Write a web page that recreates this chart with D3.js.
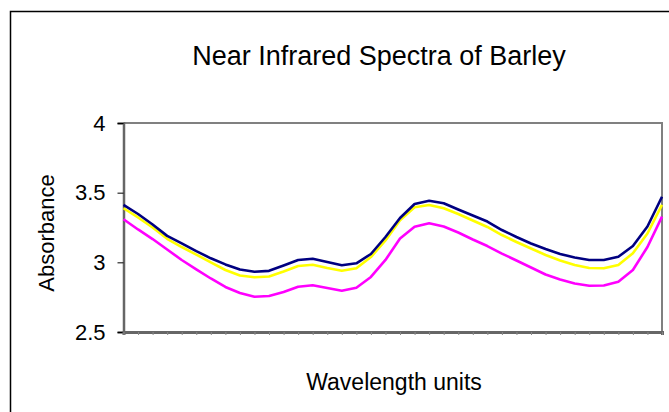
<!DOCTYPE html>
<html>
<head>
<meta charset="utf-8">
<script src="https://cdn.jsdelivr.net/npm/d3@7"></script>
<style>
  body { margin: 0; background: #fff; }
  svg { display: block; font-family: "Liberation Sans", Arial, sans-serif; }
</style>
</head>
<body>
<div id="chart"></div>
<script>
// wavelength categories (unlabelled on the chart)
const wavelengths = d3.range(1, 39);

// absorbance for three barley samples
const sample_navy = [3.412, 3.347, 3.272, 3.190, 3.136, 3.081, 3.029, 2.985, 2.948, 2.932,
                     2.939, 2.977, 3.017, 3.026, 3.002, 2.979, 2.993, 3.060, 3.182, 3.318,
                     3.419, 3.442, 3.424, 3.379, 3.336, 3.293, 3.232, 3.182, 3.135, 3.096,
                     3.060, 3.035, 3.017, 3.017, 3.040, 3.117, 3.257, 3.471];
const sample_yellow = [3.388, 3.322, 3.250, 3.169, 3.110, 3.056, 3.000, 2.945, 2.906, 2.893,
                       2.898, 2.934, 2.974, 2.983, 2.959, 2.940, 2.957, 3.038, 3.157, 3.302,
                       3.395, 3.412, 3.388, 3.347, 3.300, 3.254, 3.196, 3.146, 3.099, 3.053,
                       3.013, 2.981, 2.959, 2.957, 2.981, 3.065, 3.207, 3.412];
const sample_magenta = [3.309, 3.236, 3.167, 3.092, 3.017, 2.949, 2.884, 2.823, 2.780, 2.753,
                        2.758, 2.787, 2.825, 2.835, 2.816, 2.796, 2.818, 2.895, 3.017, 3.171,
                        3.256, 3.280, 3.257, 3.214, 3.164, 3.117, 3.063, 3.013, 2.963, 2.913,
                        2.877, 2.848, 2.832, 2.834, 2.861, 2.945, 3.110, 3.328];

const y_ticks = [2.5, 3, 3.5, 4];
const y_tick_labels = ["2.5", "3", "3.5", "4"];

// layout
const WIDTH = 669;
const HEIGHT = 412;
const PLOT_LEFT = 123.5;
const PLOT_RIGHT = 662;
const PLOT_TOP = 123;
const PLOT_BOTTOM = 332;

const svg = d3.select("#chart")
    .append("svg")
    .attr("width", WIDTH)
    .attr("height", HEIGHT);

// outer chart border (runs off the right and bottom edges)
svg.append("rect")
    .attr("x", 10.5)
    .attr("y", 11.5)
    .attr("width", 700)
    .attr("height", 450)
    .attr("fill", "#fff")
    .attr("stroke", "#000")
    .attr("stroke-width", 1.5);

const xScale = d3.scalePoint()
    .domain(wavelengths)
    .range([PLOT_LEFT, PLOT_RIGHT]);

const yScale = d3.scaleLinear()
    .domain([2.5, 4])
    .range([PLOT_BOTTOM, PLOT_TOP]);

// plot area border (top and right)
svg.append("path")
    .attr("d", `M${PLOT_LEFT},${PLOT_TOP}H${PLOT_RIGHT}V${PLOT_BOTTOM}`)
    .attr("fill", "none")
    .attr("stroke", "#808080")
    .attr("stroke-width", 2);

// y axis
const yAxis = d3.axisLeft(yScale)
    .tickValues(y_ticks)
    .tickFormat((d, i) => y_tick_labels[i])
    .tickSize(6)
    .tickPadding(12);

const gy = svg.append("g")
    .attr("transform", `translate(${PLOT_LEFT},0)`)
    .call(yAxis);
gy.select(".domain").attr("stroke", "#666").attr("stroke-width", 2.5);
gy.selectAll(".tick line").attr("stroke", "#000");
gy.selectAll(".tick text")
    .attr("font-size", 22)
    .attr("fill", "#000")
    .attr("font-family", "Liberation Sans, Arial, sans-serif");

// x axis: small ticks, no labels
const xAxis = d3.axisBottom(xScale)
    .tickFormat("")
    .tickSize(3);

const gx = svg.append("g")
    .attr("transform", `translate(0,${PLOT_BOTTOM})`)
    .call(xAxis);
gx.select(".domain").attr("stroke", "#666").attr("stroke-width", 3);
gx.selectAll(".tick line").attr("stroke", "#888");

// lines
const line = d3.line()
    .x((d, i) => xScale(wavelengths[i]))
    .y(d => yScale(d));

const series = [
    { values: sample_magenta, color: "#ff00ff" },
    { values: sample_yellow, color: "#ffff00" },
    { values: sample_navy, color: "#000080" }
];

series.forEach(s => {
    svg.append("path")
        .datum(s.values)
        .attr("fill", "none")
        .attr("stroke", s.color)
        .attr("stroke-width", 2.6)
        .attr("stroke-linejoin", "round")
        .attr("d", line);
});

// title and axis titles
svg.append("text")
    .attr("x", 379)
    .attr("y", 65)
    .attr("text-anchor", "middle")
    .attr("font-size", 27)
    .text("Near Infrared Spectra of Barley");

svg.append("text")
    .attr("x", 394)
    .attr("y", 390)
    .attr("text-anchor", "middle")
    .attr("font-size", 23)
    .text("Wavelength units");

svg.append("text")
    .attr("transform", "translate(54,233) rotate(-90)")
    .attr("text-anchor", "middle")
    .attr("font-size", 22)
    .text("Absorbance");
</script>
</body>
</html>
